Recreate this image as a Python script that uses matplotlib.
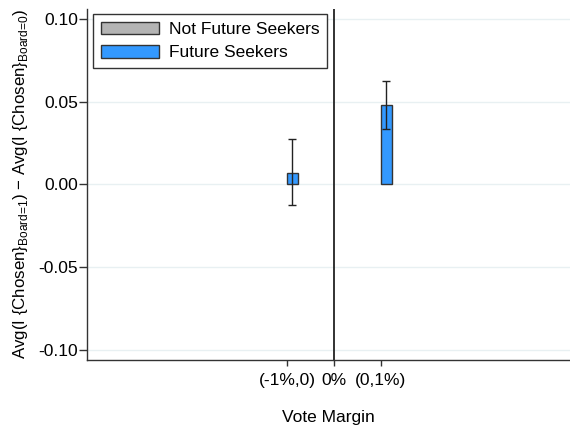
import numpy as np
import matplotlib.pyplot as plt
from matplotlib.patches import Patch

plt.rcParams['font.family'] = ['Liberation Sans', 'DejaVu Sans']
plt.rcParams['mathtext.fontset'] = 'custom'
plt.rcParams['mathtext.rm'] = 'Liberation Sans'

# vote margin bins and group estimates
bins = ['(-1%,0)', '0%', '(0,1%)']
bin_pos = [-1, 0, 1]
groups = ['Not Future Seekers', 'Future Seekers']
not_seekers = [np.nan, np.nan]
seekers = [0.0071, 0.0478]
seekers_lo = [-0.0127, 0.0335]
seekers_hi = [0.0276, 0.0623]
bar_x = [-1, 1]

fs = 12.5
fig = plt.figure(figsize=(5.7, 4.28), dpi=100)
ax = fig.add_axes([0.1535, 0.159, 0.8465, 0.82])

width = 0.235
x = np.array(bar_x, dtype=float)
seek = np.array(seekers)
yerr = np.array([seek - np.array(seekers_lo), np.array(seekers_hi) - seek])

ax.bar(x - width / 2, not_seekers, width, color='#b4b4b4', edgecolor='#333333', linewidth=1, zorder=3)
ax.bar(x + width / 2, seek, width, color='#3399ff', edgecolor='#333333', linewidth=1, zorder=3)
ax.errorbar(x + width / 2, seek, yerr=yerr, fmt='none', ecolor='#222222', elinewidth=1,
            capsize=2.8, capthick=1, zorder=4)

ax.axvline(0, color='#222222', linewidth=1.3, zorder=2)

ax.set_xlim(-5.24, 5.02)
ax.set_ylim(-0.106, 0.106)
ax.set_yticks([-0.10, -0.05, 0.0, 0.05, 0.10])
ax.set_yticklabels(['-0.10', '-0.05', '0.00', '0.05', '0.10'])
ax.set_xticks(bin_pos)
ax.set_xticklabels(bins)
ax.grid(axis='y', color='#e8f0f2', linewidth=1, zorder=0)
ax.set_axisbelow(True)

for side in ['top', 'right']:
    ax.spines[side].set_visible(False)
for side in ['left', 'bottom']:
    ax.spines[side].set_color('#333333')
    ax.spines[side].set_linewidth(1)
ax.tick_params(axis='both', labelsize=fs, width=1, color='#333333')
ax.tick_params(axis='y', length=6, pad=1)
ax.tick_params(axis='x', length=4.5, pad=5)

ax.set_xlabel('Vote Margin', fontsize=fs, labelpad=16)
ax.set_ylabel(r'Avg(I {Chosen}$_{\text{Board=1}}$) − Avg(I {Chosen}$_{\text{Board=0}}$)',
              fontsize=12.2, labelpad=6)

handles = [Patch(facecolor='#b4b4b4', edgecolor='#333333', label=groups[0]),
           Patch(facecolor='#3399ff', edgecolor='#333333', label=groups[1])]
leg = ax.legend(handles=handles, loc='upper left', bbox_to_anchor=(0.011, 0.986),
                fontsize=fs, fancybox=False, edgecolor='#333333', framealpha=1,
                handlelength=3.35, handleheight=0.75, borderpad=0.45, labelspacing=0.45,
                handletextpad=0.57, borderaxespad=0)
leg.get_frame().set_linewidth(1)

fig.savefig('out.png', dpi=100)
